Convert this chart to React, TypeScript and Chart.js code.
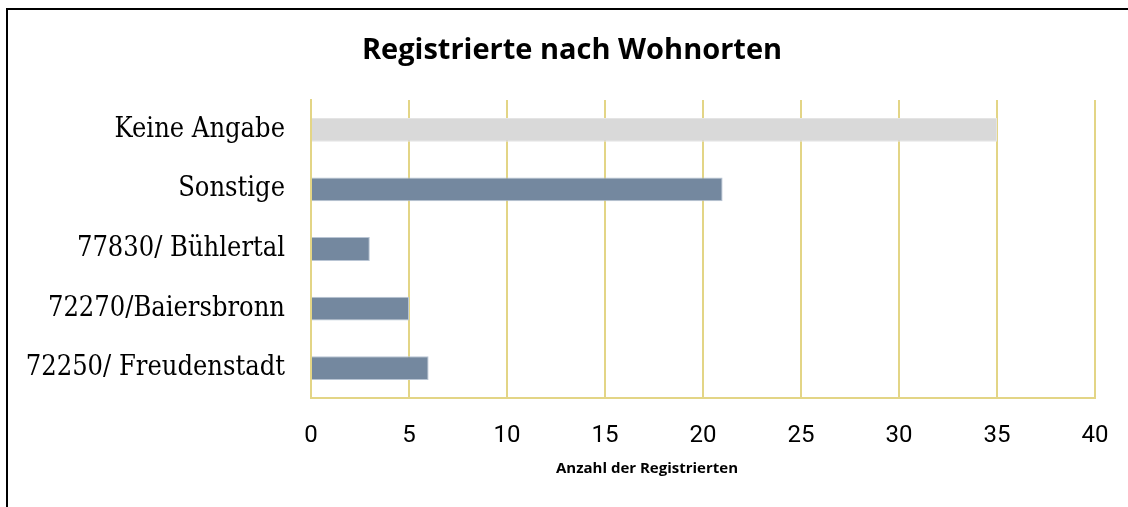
import React, { useEffect, useRef } from "react";
import { Chart, registerables } from "chart.js";

Chart.register(...registerables);

const categories = ["Keine Angabe", "Sonstige", "77830/ Bühlertal", "72270/Baiersbronn", "72250/ Freudenstadt"];
const values = [35, 21, 3, 5, 6];
const barColors = ["#d9d9d9", "#74889f", "#74889f", "#74889f", "#74889f"];
const barEdgeColors = ["#e4e4e4", "#b9c5d4", "#b9c5d4", "#b9c5d4", "#b9c5d4"];
const xTicks = { min: 0, max: 40, step: 5 };
const titleText = "Registrierte nach Wohnorten";
const axisTitleText = "Anzahl der Registrierten";

const decorPlugin = {
  id: "decorPlugin",
  beforeDraw(chart: any) {
    const ctx = chart.ctx;
    ctx.save();
    ctx.fillStyle = "#fff";
    ctx.fillRect(0, 0, chart.width, chart.height);
    ctx.fillStyle = "#000";
    ctx.fillRect(6, 8, 2, chart.height);
    ctx.fillRect(6, 8, chart.width, 2);
    ctx.restore();
  },
  afterDraw(chart: any) {
    const ctx = chart.ctx;
    ctx.save();
    ctx.fillStyle = "#000";
    ctx.textAlign = "center";
    ctx.textBaseline = "middle";
    ctx.font = "bold 29px 'Open Sans'";
    ctx.fillText(titleText, chart.width / 2 + 8, 51);
    ctx.font = "bold 15px 'Open Sans'";
    ctx.fillText(axisTitleText, chart.width / 2 + 83, 469);
    ctx.restore();
  },
};

export default function App() {
  const ref = useRef<HTMLCanvasElement>(null);
  useEffect(() => {
    document.documentElement.style.overflow = "hidden";
    const chart = new Chart(ref.current!, {
      type: "bar",
      data: {
        labels: categories,
        datasets: [
          {
            data: values,
            backgroundColor: barColors,
            borderColor: barEdgeColors,
            borderWidth: 1,
            categoryPercentage: 1,
            barPercentage: 0.4,
          },
        ],
      },
      options: {
        indexAxis: "y",
        animation: false,
        responsive: false,
        layout: { padding: { top: 100, right: 33, left: 0, bottom: 0 } },
        plugins: { legend: { display: false }, tooltip: { enabled: false }, title: { display: false } },
        scales: {
          x: {
            min: xTicks.min,
            max: xTicks.max,
            ticks: { stepSize: xTicks.step, padding: 24, color: "#000", font: { family: "Roboto", size: 24 } },
            grid: { color: "#e3d586", lineWidth: 2, drawTicks: false },
            border: { color: "#e3d586", width: 2 },
            afterFit: (s: any) => {
              s.height = 109;
              s.paddingLeft = 0;
              s.paddingRight = 0;
            },
          },
          y: {
            ticks: { padding: 26, color: "#000", font: { family: "DejaVu Serif Condensed", size: 27 } },
            grid: { display: false, drawTicks: false },
            border: { color: "#e3d586", width: 2 },
            afterFit: (s: any) => {
              s.width = 311;
              s.paddingTop = 0;
              s.paddingBottom = 0;
            },
          },
        },
      },
      plugins: [decorPlugin],
    });
    return () => chart.destroy();
  }, []);
  return (
    <div style={{ position: "fixed", left: 0, top: 0, width: 1128, height: 507 }}>
      <canvas ref={ref} width={1128} height={507} style={{ display: "block" }} />
    </div>
  );
}
